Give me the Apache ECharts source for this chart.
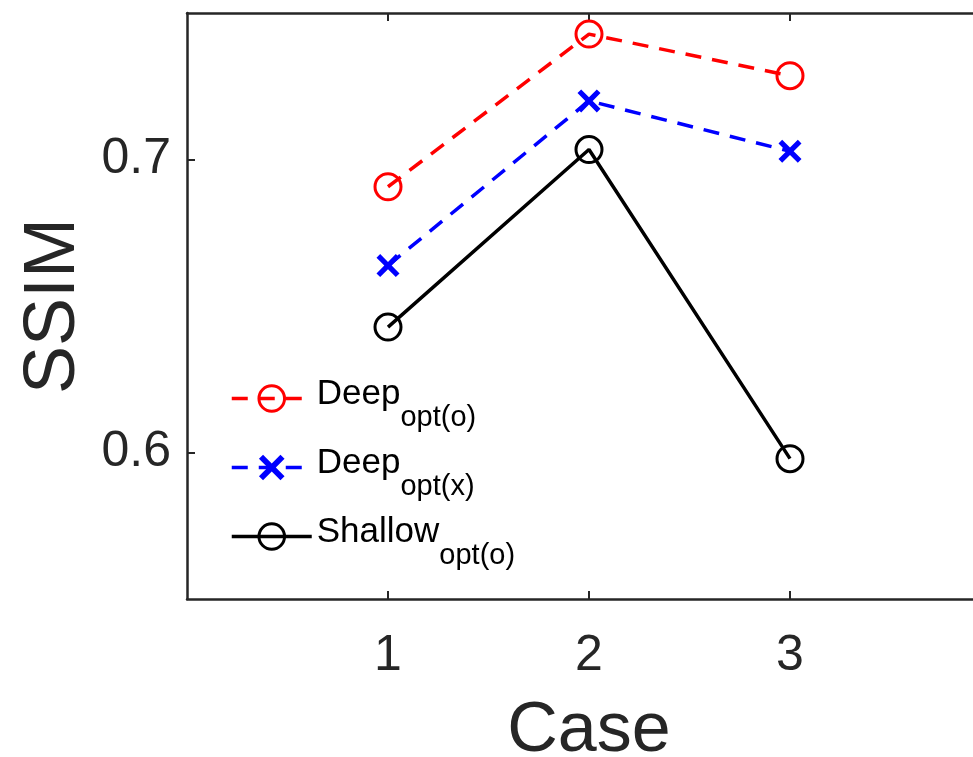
<!DOCTYPE html>
<html>
<head>
<meta charset="utf-8">
<script src="https://cdn.jsdelivr.net/npm/echarts@6/dist/echarts.min.js"></script>
<style>html,body{margin:0;padding:0;background:#fff}#c{width:973px;height:757px}</style>
</head>
<body>
<div id="c"></div>
<script>
var cases = [1, 2, 3];
var yTicks = [0.6, 0.7];
var deepOptO = [0.6907, 0.7428, 0.7286];
var deepOptX = [0.6638, 0.7200, 0.7028];
var shallowOptO = [0.6428, 0.7034, 0.5979];
var seriesNames = ['Deep_opt(o)', 'Deep_opt(x)', 'Shallow_opt(o)'];

function pairs(vals) { return cases.map(function (c, i) { return [c, vals[i]]; }); }

var FONT = '"Liberation Sans", Arial, Helvetica, sans-serif';
var AX = '#262626';
var xShape = 'path://M0,1.6L1.6,0L5,3.4L8.4,0L10,1.6L6.6,5L10,8.4L8.4,10L5,6.6L1.6,10L0,8.4L3.4,5Z';

var chart = echarts.init(document.getElementById('c'), null, {renderer: 'canvas'});
chart.setOption({
  animation: false,
  backgroundColor: '#fff',
  textStyle: {fontFamily: FONT},
  grid: {left: 187, top: 13, bottom: 158, right: -18, containLabel: false, outerBoundsMode: 'none'},
  xAxis: [{
    type: 'value', min: 0, max: 4, position: 'bottom',
    name: 'Case', nameLocation: 'middle', nameGap: 98,
    nameTextStyle: {fontSize: 70, color: AX, fontFamily: FONT},
    axisLine: {show: true, onZero: false, lineStyle: {color: AX, width: 2.5}},
    axisTick: {show: true, inside: true, length: 8, customValues: cases, lineStyle: {color: AX, width: 2}},
    axisLabel: {show: true, customValues: cases, fontSize: 50, color: AX, margin: 32, fontFamily: FONT},
    splitLine: {show: false}
  }, {
    type: 'value', min: 0, max: 4, position: 'top',
    axisLine: {show: true, onZero: false, lineStyle: {color: AX, width: 2.5}},
    axisTick: {show: true, inside: true, length: 8, customValues: cases, lineStyle: {color: AX, width: 2}},
    axisLabel: {show: false},
    splitLine: {show: false}
  }],
  yAxis: {
    type: 'value', min: 0.55, max: 0.75,
    name: 'SSIM', nameLocation: 'middle', nameGap: 97,
    nameTextStyle: {fontSize: 72, color: AX, fontFamily: FONT},
    axisLine: {show: true, onZero: false, lineStyle: {color: AX, width: 2.5}},
    axisTick: {show: true, inside: true, length: 8, customValues: yTicks, lineStyle: {color: AX, width: 2}},
    axisLabel: {show: true, customValues: yTicks, fontSize: 50, color: AX, margin: 16, fontFamily: FONT,
      formatter: function (v) { return v.toFixed(1); }},
    splitLine: {show: false}
  },
  legend: {
    show: true, orient: 'vertical', left: 225, top: 372,
    itemWidth: 80, itemHeight: 32, itemGap: 14,
    data: seriesNames,
    lineStyle: {width: 'inherit'},
    itemStyle: {borderWidth: 'inherit'},
    formatter: function (n) {
      var p = n.split('_');
      return '{m|' + p[0] + '}{s|' + p[1] + '}';
    },
    textStyle: {
      color: '#000', fontFamily: FONT, padding: [12, 0, 0, 0],
      rich: {
        m: {fontSize: 35, color: '#000', fontFamily: FONT, verticalAlign: 'top', lineHeight: 55},
        s: {fontSize: 29, color: '#000', fontFamily: FONT, verticalAlign: 'bottom', lineHeight: 21}
      }
    }
  },
  series: [{
    name: seriesNames[0], type: 'line', data: pairs(deepOptO),
    symbol: 'circle', symbolSize: 26, showSymbol: true,
    lineStyle: {color: '#ff0000', width: 3.5, type: [16, 11]},
    itemStyle: {color: 'rgba(0,0,0,0)', borderColor: '#ff0000', borderWidth: 3}
  }, {
    name: seriesNames[1], type: 'line', data: pairs(deepOptX),
    symbol: xShape, symbolSize: 23, showSymbol: true,
    lineStyle: {color: '#0000ff', width: 3.5, type: [16, 11]},
    itemStyle: {color: '#0000ff', borderColor: '#0000ff', borderWidth: 0}
  }, {
    name: seriesNames[2], type: 'line', data: pairs(shallowOptO),
    symbol: 'circle', symbolSize: 26, showSymbol: true,
    lineStyle: {color: '#000000', width: 3.5, type: 'solid'},
    itemStyle: {color: 'rgba(0,0,0,0)', borderColor: '#000000', borderWidth: 3}
  }]
});
</script>
</body>
</html>
